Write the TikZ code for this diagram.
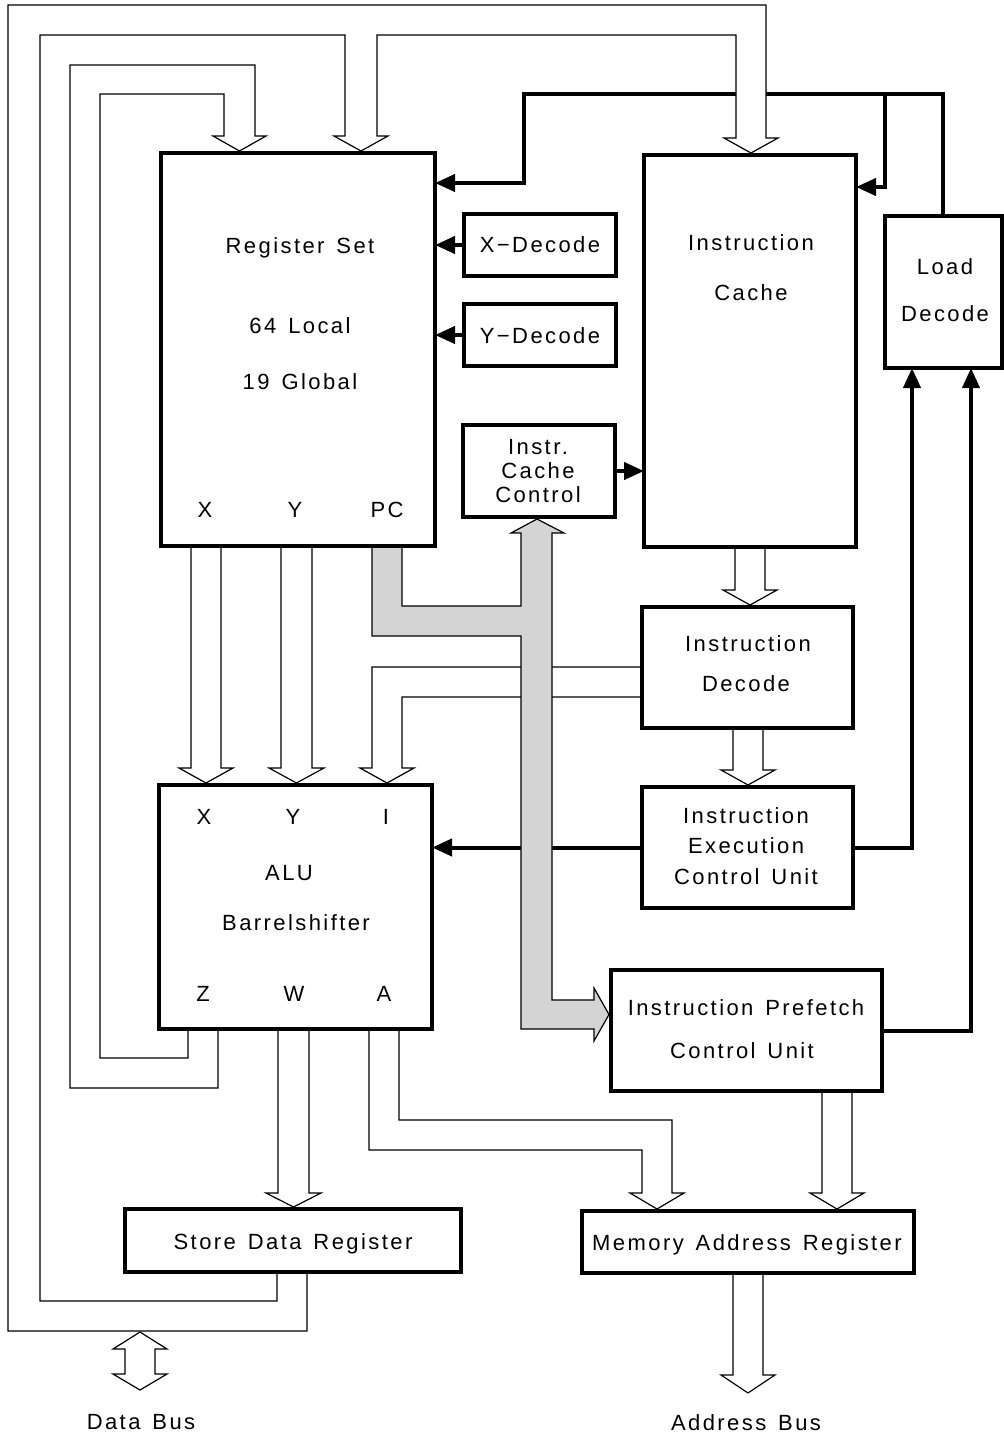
\documentclass[tikz,border=0pt]{standalone}
\usepackage{fontspec}
\setmainfont{Liberation Sans}[LetterSpace=11,WordSpace=1.4]
\usetikzlibrary{arrows.meta}

\begin{document}
\begin{tikzpicture}[x=1pt,y=-1pt,
    blk/.style={inner sep=0pt,outer sep=0pt},
    txt/.style={font=\fontsize{22}{26}\selectfont,inner sep=0pt,text height=16pt,text depth=0pt},
    ctl/.style={line width=4pt,-{Triangle[length=20pt,width=17pt]}},
    bus/.style={line width=1.2pt},
    gbus/.style={bus,fill=black!17}]
  \useasboundingbox (0,0) rectangle (1004,1438);

  % blocks (outlines drawn last)
  \node[blk,minimum width=274pt,minimum height=393pt] (rs) at (298,349.5) {};
  \node[blk,minimum width=152pt,minimum height=62pt] (xdec) at (540,245) {};
  \node[blk,minimum width=152pt,minimum height=62pt] (ydec) at (540,335) {};
  \node[blk,minimum width=152pt,minimum height=92pt] (icc) at (539,471) {};
  \node[blk,minimum width=212pt,minimum height=392pt] (ic) at (750,351) {};
  \node[blk,minimum width=117pt,minimum height=152pt] (ld) at (943,292) {};
  \node[blk,minimum width=211pt,minimum height=121pt] (idec) at (747.5,667.5) {};
  \node[blk,minimum width=211pt,minimum height=121pt] (iecu) at (747.5,847.5) {};
  \node[blk,minimum width=273pt,minimum height=244pt] (alu) at (295.5,907) {};
  \node[blk,minimum width=271pt,minimum height=121pt] (ipcu) at (746.5,1030.5) {};
  \node[blk,minimum width=336pt,minimum height=63pt] (sdr) at (293,1240.5) {};
  \node[blk,minimum width=332pt,minimum height=62pt] (mar) at (748,1242) {};

  % control lines
  \coordinate (tophook) at (524,183);
  \coordinate (ichook) at (885,187);
  \draw[ctl] (xdec.west) -- (rs.east |- xdec.west);
  \draw[ctl] (ydec.west) -- (rs.east |- ydec.west);
  \draw[ctl] (icc.east) -- (ic.west |- icc.east);
  \draw[ctl] (ld.north) |- (524,94) -- (tophook) -- (tophook -| rs.east);
  \draw[ctl] (885,92) -- (ichook) -- (ichook -| ic.east);
  \draw[ctl] (iecu.west) -- (iecu.west -| alu.east);
  \draw[ctl] (iecu.east) -| ([xshift=-31pt]ld.south);
  \draw[ctl] (ipcu.east) -| ([xshift=28pt]ld.south);

  % buses
  \draw[bus,fill=white] (307,1272) -- (307,1331) -- (8,1331) -- (8,5) -- (766,5) -- (766,138)
    -- (778,138) -- (751,153) -- (724,138) -- (736,138) -- (736,35) -- (377,35) -- (377,136)
    -- (388,136) -- (361,151) -- (334,136) -- (345,136) -- (345,35) -- (40,35) -- (40,1301)
    -- (277,1301) -- (277,1272);
  \draw[bus] (188,1029) -- (188,1058) -- (100,1058) -- (100,94) -- (224,94) -- (224,136)
    -- (213,136) -- (239.5,151) -- (266,136) -- (255,136) -- (255,65) -- (70,65) -- (70,1088)
    -- (218,1088) -- (218,1029);
  \draw[bus] (191,546) -- (191,768) -- (179,768) -- (206,783) -- (233,768) -- (221,768) -- (221,546);
  \draw[bus] (281,546) -- (281,768) -- (269,768) -- (296.5,783) -- (324,768) -- (312,768) -- (312,546);
  \draw[bus] (idec.west |- 0,667) -- (372,667) -- (372,768) -- (360,768) -- (387,783) -- (414,768)
    -- (402,768) -- (402,697) -- (idec.west |- 0,697);
  \draw[bus] (278,1029) -- (278,1193) -- (266,1193) -- (293.5,1207) -- (321,1193) -- (309,1193) -- (309,1029);
  \draw[bus] (369,1029) -- (369,1150) -- (642,1150) -- (642,1193) -- (630,1193) -- (657,1209)
    -- (684,1193) -- (672,1193) -- (672,1120) -- (399,1120) -- (399,1029);
  \draw[bus] (822,1091) -- (822,1193) -- (810,1193) -- (837,1209) -- (864,1193) -- (852,1193) -- (852,1091);
  \draw[bus] (733,1273) -- (733,1375) -- (721,1375) -- (748,1393) -- (775,1375) -- (763,1375) -- (763,1273);
  \draw[bus] (735,547) -- (735,590) -- (723,590) -- (750,605) -- (777,590) -- (765,590) -- (765,547);
  \draw[bus] (733,728) -- (733,770) -- (721,770) -- (748,785) -- (775,770) -- (763,770) -- (763,728);
  \draw[bus] (140,1332) -- (167,1349) -- (155,1349) -- (155,1374) -- (167,1374) -- (140,1390)
    -- (113,1374) -- (125,1374) -- (125,1349) -- (113,1349) -- cycle;
  \draw[gbus] (402,546) -- (402,606) -- (521,606) -- (521,533) -- (511,533) -- (537,519)
    -- (564,533) -- (552,533) -- (552,1000) -- (594,1000) -- (594,988) -- (609,1014.5)
    -- (594,1041) -- (594,1029) -- (521,1029) -- (521,636) -- (372,636) -- (372,546);

  % box outlines on top
  \foreach \b in {rs,xdec,ydec,icc,ic,ld,idec,iecu,alu,ipcu,sdr,mar}
    \draw[line width=4pt] (\b.north west) rectangle (\b.south east);

  % labels
  \node[txt] (rsA) at (300,245) {Register Set};
  \node[txt] (rsB) at (300,325) {64 Local};
  \node[txt] (rsC) at (300,381) {19 Global};
  \node[txt] (rsX) at (205,509) {X};
  \node[txt] (rsY) at (295,509) {Y};
  \node[txt] (rsP) at (387,509) {PC};
  \node[txt] (xdecT) at (540,244) {X−Decode};
  \node[txt] (ydecT) at (540,335) {Y−Decode};
  \node[txt] (iccA) at (538,446) {Instr.};
  \node[txt] (iccB) at (538,470) {Cache};
  \node[txt] (iccC) at (538,494) {Control};
  \node[txt] (icA) at (751,242) {Instruction};
  \node[txt] (icB) at (751,292) {Cache};
  \node[txt] (ldA) at (945,266) {Load};
  \node[txt] (ldB) at (945,313) {Decode};
  \node[txt] (idecA) at (748,643) {Instruction};
  \node[txt] (idecB) at (746,683) {Decode};
  \node[txt] (iecuA) at (746,815) {Instruction};
  \node[txt] (iecuB) at (746,845) {Execution};
  \node[txt] (iecuC) at (746,876) {Control Unit};
  \node[txt] (aluX) at (204,816) {X};
  \node[txt] (aluY) at (293,816) {Y};
  \node[txt] (aluI) at (386,816) {I};
  \node[txt] (aluA) at (289,872) {ALU};
  \node[txt] (aluB) at (296,922) {Barrelshifter};
  \node[txt] (aluZ) at (203,993) {Z};
  \node[txt] (aluW) at (294,993) {W};
  \node[txt] (aluAd) at (384,993) {A};
  \node[txt] (ipcuA) at (746,1007) {Instruction Prefetch};
  \node[txt] (ipcuB) at (742,1050) {Control Unit};
  \node[txt] (sdrT) at (293,1241) {Store Data Register};
  \node[txt] (marT) at (747,1242) {Memory Address Register};
  \node[txt] (dbus) at (141,1421) {Data Bus};
  \node[txt] (abus) at (746,1422) {Address Bus};
\end{tikzpicture}
\end{document}
